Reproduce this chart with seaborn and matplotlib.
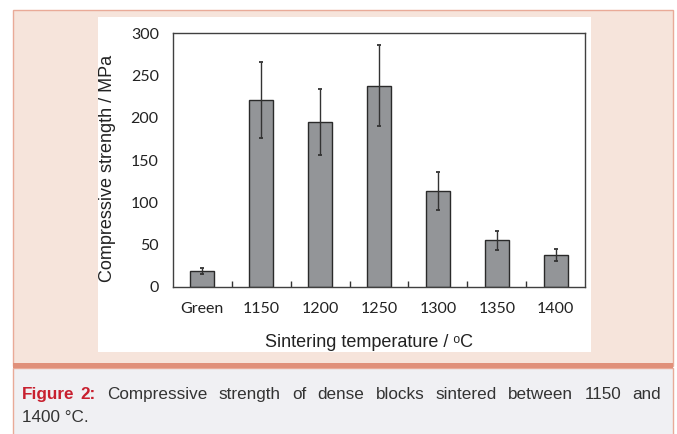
import matplotlib
matplotlib.use("Agg")
import matplotlib.pyplot as plt
import seaborn as sns
import pandas as pd
from matplotlib.patches import Rectangle

categories = ["Green", "1150", "1200", "1250", "1300", "1350", "1400"]
strength = [18.5, 221, 195, 238, 113, 55, 37.5]
errors = [3.5, 44.5, 39, 48, 22.5, 11, 7.5]
yticks = [0, 50, 100, 150, 200, 250, 300]

sns.set_theme(style="white")

W, H = 677, 434
fig = plt.figure(figsize=(W / 100, H / 100), dpi=100)
fig.patch.set_facecolor("white")


def px_rect(x0, y0, x1, y1, **kw):
    r = Rectangle((x0 / W, 1 - y1 / H), (x1 - x0) / W, (y1 - y0) / H,
                  transform=fig.transFigure, zorder=-10, **kw)
    fig.patches.append(r)


# frame backgrounds
px_rect(13, 9.5, 673, 366, facecolor="#f6e4db", edgecolor="#e9aa98", linewidth=1)
px_rect(13, 368, 673, 440, facecolor="#f0f0f3", edgecolor="#e9aa98", linewidth=1)
px_rect(13, 363, 673, 368, facecolor="#e0907a", edgecolor="none")
px_rect(98, 17, 591, 352, facecolor="white", edgecolor="none")

ax = fig.add_axes([172.7 / W, 1 - 286.7 / H, (585.3 - 172.7) / W, (286.7 - 33.3) / H])
ax.set_zorder(5)
ax.set_facecolor("white")

df = pd.DataFrame({"cat": categories, "val": strength})
sns.barplot(data=df, x="cat", y="val", order=categories, color="#939598",
            saturation=1, width=0.4, edgecolor="#2a2a2a", linewidth=1,
            errorbar=None, ax=ax)
ax.errorbar(range(len(categories)), strength, yerr=errors, fmt="none",
            ecolor="#333333", elinewidth=1, capsize=1.6, capthick=1.3)

ax.set_ylim(0, 300)
ax.set_xlim(-0.5, len(categories) - 0.5)
ax.set_yticks(yticks)
ax.set_yticklabels([str(t) for t in yticks], fontfamily="Lato", fontsize=11.5, color="#222222")
ax.set_xticks(range(len(categories)))
ax.set_xticklabels(categories, fontfamily="Lato", fontsize=11.5, color="#222222")
ax.tick_params(axis="y", length=0, pad=10)
ax.tick_params(axis="x", length=0, pad=11)
# boundary ticks inward
ax.set_xticks([i + 0.5 for i in range(len(categories) - 1)], minor=True)
ax.tick_params(axis="x", which="minor", direction="in", length=4, width=1, color="#333333", bottom=True)

for s in ax.spines.values():
    s.set_visible(True)
    s.set_color("#404040")
    s.set_linewidth(1)

ax.set_xlabel("Sintering temperature / \u1d52C", fontfamily=["Liberation Sans", "DejaVu Sans"],
              fontsize=13, color="#222222")
ax.set_ylabel("Compressive strength / MPa", fontfamily="Liberation Sans",
              fontsize=13, color="#222222")
ax.xaxis.label.set_va("baseline")
ax.xaxis.set_label_coords((369 - 172.7) / 412.6, -(346.7 - 286.7) / 253.4)
ax.yaxis.label.set_va("center")
ax.yaxis.set_label_coords((108 - 172.7) / 412.6, (286.7 - 168) / 253.4)

# caption, justified first line
fig.canvas.draw()
renderer = fig.canvas.get_renderer()
cap_family = ["Liberation Sans"]
cap_size = 12.3
line1_bold = ["Figure", "2:"]
line1_rest = "Compressive strength of dense blocks sintered between 1150 and".split()
words = [(w, True) for w in line1_bold] + [(w, False) for w in line1_rest]
x_start, x_end, base1, base2 = 22, 667, 399, 421.7
texts = []
total = 0
for w, b in words:
    t = fig.text(0, 1 - base1 / H, w, fontsize=cap_size, family=cap_family,
                 fontweight="bold" if b else "normal",
                 color="#c8202f" if b else "#333333", va="baseline", ha="left")
    wpx = t.get_window_extent(renderer).width
    texts.append((t, wpx))
    total += wpx
gap = (x_end - x_start - total) / (len(words) - 1)
x = x_start
for i, (t, wpx) in enumerate(texts):
    t.set_x(x / W)
    x += wpx + (gap * 0.5 if i == 0 else gap)
fig.text(x_start / W, 1 - base2 / H, "1400 °C.", fontsize=cap_size, family=cap_family,
         color="#333333", va="baseline", ha="left")

fig.savefig("out.png", dpi=100, facecolor=fig.get_facecolor())
